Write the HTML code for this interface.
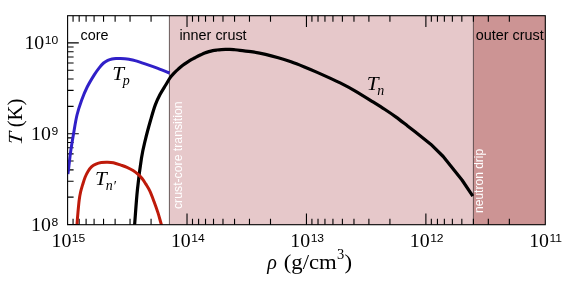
<!DOCTYPE html>
<html><head><meta charset="utf-8"><style>
html,body{margin:0;padding:0;background:#fff;}
svg{display:block;will-change:transform;opacity:0.999}
.num{font-family:"Liberation Serif",serif;font-size:18px;fill:#000}
.sup{font-family:"Liberation Sans",sans-serif;font-size:11px}
.sans{font-family:"Liberation Sans",sans-serif;fill:#000}
.ser{font-family:"Liberation Serif",serif;fill:#000}
</style></head><body>
<svg width="581" height="282" viewBox="0 0 581 282">
<rect width="581" height="282" fill="#fff"/>
<rect x="169.40" y="15.7" width="304.00" height="209.00" fill="#e6c8ca"/>
<rect x="473.40" y="15.7" width="71.90" height="209.00" fill="#cc9494"/>
<path d="M169.40,15.7V224.7M473.40,15.7V224.7" stroke="#3a2c2c" stroke-width="0.75" fill="none"/>
<path d="M509.35,15.70L509.35,21.70 M509.35,224.70L509.35,218.70 M488.32,15.70L488.32,21.70 M488.32,224.70L488.32,218.70 M473.40,15.70L473.40,21.70 M473.40,224.70L473.40,218.70 M461.83,15.70L461.83,21.70 M461.83,224.70L461.83,218.70 M452.37,15.70L452.37,21.70 M452.37,224.70L452.37,218.70 M444.37,15.70L444.37,21.70 M444.37,224.70L444.37,218.70 M437.45,15.70L437.45,21.70 M437.45,224.70L437.45,218.70 M431.34,15.70L431.34,21.70 M431.34,224.70L431.34,218.70 M425.88,15.70L425.88,26.90 M425.88,224.70L425.88,213.50 M389.92,15.70L389.92,21.70 M389.92,224.70L389.92,218.70 M368.89,15.70L368.89,21.70 M368.89,224.70L368.89,218.70 M353.97,15.70L353.97,21.70 M353.97,224.70L353.97,218.70 M342.40,15.70L342.40,21.70 M342.40,224.70L342.40,218.70 M332.94,15.70L332.94,21.70 M332.94,224.70L332.94,218.70 M324.95,15.70L324.95,21.70 M324.95,224.70L324.95,218.70 M318.02,15.70L318.02,21.70 M318.02,224.70L318.02,218.70 M311.91,15.70L311.91,21.70 M311.91,224.70L311.91,218.70 M306.45,15.70L306.45,26.90 M306.45,224.70L306.45,213.50 M270.50,15.70L270.50,21.70 M270.50,224.70L270.50,218.70 M249.47,15.70L249.47,21.70 M249.47,224.70L249.47,218.70 M234.55,15.70L234.55,21.70 M234.55,224.70L234.55,218.70 M222.98,15.70L222.98,21.70 M222.98,224.70L222.98,218.70 M213.52,15.70L213.52,21.70 M213.52,224.70L213.52,218.70 M205.52,15.70L205.52,21.70 M205.52,224.70L205.52,218.70 M198.60,15.70L198.60,21.70 M198.60,224.70L198.60,218.70 M192.49,15.70L192.49,21.70 M192.49,224.70L192.49,218.70 M187.02,15.70L187.02,26.90 M187.02,224.70L187.02,213.50 M151.07,15.70L151.07,21.70 M151.07,224.70L151.07,218.70 M130.04,15.70L130.04,21.70 M130.04,224.70L130.04,218.70 M115.12,15.70L115.12,21.70 M115.12,224.70L115.12,218.70 M103.55,15.70L103.55,21.70 M103.55,224.70L103.55,218.70 M94.09,15.70L94.09,21.70 M94.09,224.70L94.09,218.70 M86.10,15.70L86.10,21.70 M86.10,224.70L86.10,218.70 M79.17,15.70L79.17,21.70 M79.17,224.70L79.17,218.70 M73.06,15.70L73.06,21.70 M73.06,224.70L73.06,218.70 M67.60,224.50L78.80,224.50 M67.60,197.17L73.60,197.17 M67.60,181.18L73.60,181.18 M67.60,169.83L73.60,169.83 M67.60,161.03L73.60,161.03 M67.60,153.84L73.60,153.84 M67.60,147.77L73.60,147.77 M67.60,142.50L73.60,142.50 M67.60,137.85L73.60,137.85 M67.60,133.70L78.80,133.70 M67.60,106.37L73.60,106.37 M67.60,90.38L73.60,90.38 M67.60,79.03L73.60,79.03 M67.60,70.23L73.60,70.23 M67.60,63.04L73.60,63.04 M67.60,56.97L73.60,56.97 M67.60,51.70L73.60,51.70 M67.60,47.05L73.60,47.05 M67.60,42.90L78.80,42.90" stroke="#000" stroke-width="1.1" fill="none"/>
<clipPath id="cp"><rect x="67.6" y="15.7" width="477.70" height="209.00"/></clipPath>
<g clip-path="url(#cp)" fill="none" stroke-width="3" stroke-linejoin="round">
<path d="M67.90,174.00 C68.03,173.00 68.25,171.67 68.70,168.00 C69.15,164.33 69.80,157.67 70.60,152.00 C71.40,146.33 72.43,140.17 73.50,134.00 C74.57,127.83 75.63,120.67 77.00,115.00 C78.37,109.33 80.00,104.67 81.70,100.00 C83.40,95.33 85.08,91.23 87.20,87.00 C89.32,82.77 92.37,77.83 94.40,74.60 C96.43,71.37 97.87,69.53 99.40,67.60 C100.93,65.67 102.20,64.20 103.60,63.00 C105.00,61.80 106.40,61.07 107.80,60.40 C109.20,59.73 110.58,59.32 112.00,59.00 C113.42,58.68 114.88,58.60 116.30,58.50 C117.72,58.40 119.08,58.37 120.50,58.40 C121.92,58.43 123.38,58.55 124.80,58.70 C126.22,58.85 127.30,58.98 129.00,59.30 C130.70,59.62 132.32,59.85 135.00,60.60 C137.68,61.35 141.28,62.52 145.10,63.80 C148.92,65.08 153.82,66.77 157.90,68.30 C161.98,69.83 167.65,72.22 169.60,73.00" stroke="#3020c8"/>
<path d="M134.00,232.00 C134.12,230.62 134.13,230.70 134.70,223.70 C135.27,216.70 136.27,200.95 137.40,190.00 C138.53,179.05 140.17,166.40 141.50,158.00 C142.83,149.60 143.87,145.97 145.40,139.60 C146.93,133.23 149.05,125.58 150.70,119.80 C152.35,114.02 153.75,109.10 155.30,104.90 C156.85,100.70 158.27,97.92 160.00,94.60 C161.73,91.28 164.00,87.83 165.70,85.00 C167.40,82.17 168.77,79.63 170.20,77.60 C171.63,75.57 172.90,74.27 174.30,72.80 C175.70,71.33 177.18,70.05 178.60,68.80 C180.02,67.55 181.38,66.38 182.80,65.30 C184.22,64.22 185.68,63.23 187.10,62.30 C188.52,61.37 189.88,60.52 191.30,59.70 C192.72,58.88 194.02,58.22 195.60,57.40 C197.18,56.58 199.28,55.53 200.80,54.80 C202.32,54.07 203.35,53.53 204.70,53.00 C206.05,52.47 207.55,52.00 208.90,51.60 C210.25,51.20 211.45,50.87 212.80,50.60 C214.15,50.33 215.58,50.17 217.00,50.00 C218.42,49.83 219.88,49.70 221.30,49.60 C222.72,49.50 224.08,49.43 225.50,49.40 C226.92,49.37 228.38,49.35 229.80,49.40 C231.22,49.45 232.30,49.55 234.00,49.70 C235.70,49.85 236.87,49.93 240.00,50.30 C243.13,50.67 248.55,51.22 252.80,51.90 C257.05,52.58 261.25,53.42 265.50,54.40 C269.75,55.38 274.05,56.57 278.30,57.80 C282.55,59.03 286.75,60.32 291.00,61.80 C295.25,63.28 299.53,64.98 303.80,66.70 C308.07,68.42 312.33,70.23 316.60,72.10 C320.87,73.97 325.15,75.93 329.40,77.90 C333.65,79.87 337.85,81.75 342.10,83.90 C346.35,86.05 349.75,87.80 354.90,90.80 C360.05,93.80 367.98,98.78 373.00,101.90 C378.02,105.02 381.15,106.97 385.00,109.50 C388.85,112.03 392.33,114.35 396.10,117.10 C399.87,119.85 404.43,123.55 407.60,126.00 C410.77,128.45 413.85,130.83 415.10,131.80 L430.70,144.20 L443.20,156.50 L462.00,180.00 L472.80,196.20" stroke="#000" stroke-width="3.2"/>
<path d="M76.60,232.00 C76.67,230.75 76.77,227.83 77.00,224.50 C77.23,221.17 77.63,216.08 78.00,212.00 C78.37,207.92 78.77,203.33 79.20,200.00 C79.63,196.67 80.02,194.58 80.60,192.00 C81.18,189.42 81.95,186.95 82.70,184.50 C83.45,182.05 84.20,179.50 85.10,177.30 C86.00,175.10 87.00,173.07 88.10,171.30 C89.20,169.53 90.40,167.90 91.70,166.70 C93.00,165.50 94.30,164.80 95.90,164.10 C97.50,163.40 99.40,162.82 101.30,162.50 C103.20,162.18 105.28,162.17 107.30,162.20 C109.32,162.23 111.12,162.22 113.40,162.70 C115.68,163.18 118.73,164.33 121.00,165.10 C123.27,165.87 124.98,166.40 127.00,167.30 C129.02,168.20 131.28,169.35 133.10,170.50 C134.92,171.65 136.40,172.87 137.90,174.20 C139.40,175.53 140.80,176.88 142.10,178.50 C143.40,180.12 144.40,181.80 145.70,183.90 C147.00,186.00 148.52,188.17 149.90,191.10 C151.28,194.03 152.65,197.87 154.00,201.50 C155.35,205.13 156.82,209.20 158.00,212.90 C159.18,216.60 160.18,220.52 161.10,223.70 C162.02,226.88 163.10,230.62 163.50,232.00" stroke="#be1a0a"/>
</g>
<rect x="67.6" y="15.7" width="477.70" height="209.00" fill="none" stroke="#000" stroke-width="1.1"/>
<text x="80.6" y="39.7" class="sans" font-size="14.4">core</text>
<text x="179.4" y="39.7" class="sans" font-size="14.4">inner crust</text>
<text x="475.8" y="39.6" class="sans" font-size="14.4">outer crust</text>
<text transform="translate(181.7,209.0) rotate(-90)" class="sans" font-size="12.25" style="fill:#fff">crust-core transition</text>
<text transform="translate(483.2,212.9) rotate(-90)" class="sans" font-size="12" style="fill:#fff">neutron drip</text>
<g transform="translate(112.2,80.3) scale(1.09,1)"><text x="0" y="0" class="ser" font-size="19.5" font-style="italic">T</text></g><text x="122.8" y="85.4" class="ser" font-size="14" font-style="italic">p</text>
<g transform="translate(366.8,89.7) scale(1.09,1)"><text x="0" y="0" class="ser" font-size="19.5" font-style="italic">T</text></g><text x="377.2" y="94.7" class="ser" font-size="14" font-style="italic">n</text>
<g transform="translate(95.0,184.7) scale(1.09,1)"><text x="0" y="0" class="ser" font-size="19.5" font-style="italic">T</text></g><text x="105.7" y="189.7" class="ser" font-size="14" font-style="italic">n</text><text x="113.7" y="190.5" class="ser" font-size="14">′</text>
<g transform="translate(58.2,49.4) scale(1.100,1)"><text x="-30.74" y="0" class="num">10</text><text x="-12.24" y="-5.2" class="sans" font-size="11">10</text></g>
<g transform="translate(58.2,140.2) scale(1.100,1)"><text x="-24.62" y="0" class="num">10</text><text x="-6.12" y="-5.2" class="sans" font-size="11">9</text></g>
<g transform="translate(58.2,231.0) scale(1.100,1)"><text x="-24.62" y="0" class="num">10</text><text x="-6.12" y="-5.2" class="sans" font-size="11">8</text></g>
<g transform="translate(68.4,247.4) scale(1.100,1)"><text x="-15.37" y="0" class="num">10</text><text x="3.13" y="-5.2" class="sans" font-size="11">15</text></g>
<g transform="translate(187.8,247.4) scale(1.100,1)"><text x="-15.37" y="0" class="num">10</text><text x="3.13" y="-5.2" class="sans" font-size="11">14</text></g>
<g transform="translate(307.2,247.4) scale(1.100,1)"><text x="-15.37" y="0" class="num">10</text><text x="3.13" y="-5.2" class="sans" font-size="11">13</text></g>
<g transform="translate(426.7,247.4) scale(1.100,1)"><text x="-15.37" y="0" class="num">10</text><text x="3.13" y="-5.2" class="sans" font-size="11">12</text></g>
<g transform="translate(546.1,247.4) scale(1.100,1)"><text x="-15.37" y="0" class="num">10</text><text x="3.13" y="-5.2" class="sans" font-size="11">11</text></g>
<text transform="translate(22.1,145.3) rotate(-90) skewX(-7) scale(1.09,1)" class="ser" font-size="20" font-style="italic">T</text>
<text transform="translate(22.1,127.3) rotate(-90) scale(1.035,1)" class="ser" font-size="20">(K)</text>
<text x="267.3" y="268.5" class="ser" font-size="20" font-style="italic">ρ</text>
<g transform="translate(283.7,268.5) scale(1.138,1)"><text x="0" y="0" class="ser" font-size="20">(g/cm</text></g>
<text x="337.0" y="259.3" class="ser" font-size="14.5">3</text>
<g transform="translate(344.5,268.5) scale(1.138,1)"><text x="0" y="0" class="ser" font-size="20">)</text></g>
</svg>
</body></html>
